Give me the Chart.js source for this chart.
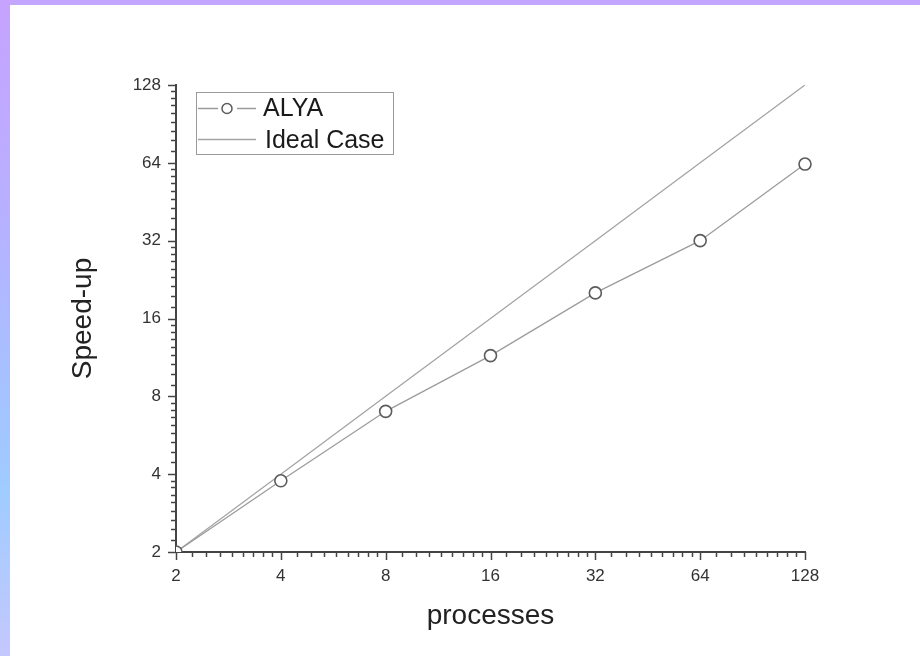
<!DOCTYPE html>
<html>
<head>
<meta charset="utf-8">
<script src="https://cdn.jsdelivr.net/npm/chart.js@4.4.1/dist/chart.umd.min.js"></script>
<style>
  html, body { margin: 0; padding: 0; background: #fff; }
  #frame { position: relative; width: 920px; height: 656px; overflow: hidden; background: #fff; }
  #frame .top { position: absolute; left: 0; top: 0; width: 920px; height: 5px; background: #c5a6fe; }
  #frame .side { position: absolute; left: 0; top: 0; width: 10px; height: 656px;
    background: linear-gradient(to bottom, #c6a3fe 0%, #b9afff 30%, #a4c4ff 62%, #a0ccff 75%, #c4c8ff 100%); }
  #c { position: absolute; left: 0; top: 0; }
</style>
</head>
<body>
<div id="frame">
  <div class="top"></div>
  <div class="side"></div>
  <canvas id="c" width="920" height="656"></canvas>
</div>
<script>
// Number of processes (x) and measured speed-up (y)
const processes     = [2, 4, 8, 16, 32, 64, 128];
const alyaSpeedup   = [2, 3.77, 7.0, 11.5, 20.1, 32.0, 63.3];
const idealSpeedup  = [2, 4, 8, 16, 32, 64, 128];
// Labelled (major) tick values shared by both log2 axes
const majorTicks    = [2, 4, 8, 16, 32, 64, 128];
const minorPerOctave = 8;

const FONT = '"Liberation Sans", Arial, sans-serif';
const AXIS_COLOR = '#444';

// Major ticks plus evenly spaced minor ticks inside each octave
function axisTicks() {
  const out = [];
  majorTicks.forEach((v, i) => {
    out.push({ value: v, major: true });
    if (i < majorTicks.length - 1) {
      for (let k = 1; k <= minorPerOctave; k++) {
        out.push({ value: v + v * k / (minorPerOctave + 1), major: false });
      }
    }
  });
  return out;
}

// Outward tick marks: long for majors, short for minors
const tickMarks = {
  id: 'tickMarks',
  afterDraw(chart) {
    const ctx = chart.ctx;
    ctx.save();
    ctx.strokeStyle = AXIS_COLOR;
    ctx.lineWidth = 1.5;
    const xs = chart.scales.x, ys = chart.scales.y;
    const area = chart.chartArea;
    xs.ticks.forEach(t => {
      const p = Math.round(xs.getPixelForValue(t.value)) + 0.5;
      const len = t.major ? 8 : 5;
      ctx.beginPath();
      ctx.moveTo(p, area.bottom);
      ctx.lineTo(p, area.bottom + len);
      ctx.stroke();
    });
    ys.ticks.forEach(t => {
      const p = Math.round(ys.getPixelForValue(t.value)) + 0.5;
      const len = t.major ? 8 : 5;
      ctx.beginPath();
      ctx.moveTo(area.left, p);
      ctx.lineTo(area.left - len, p);
      ctx.stroke();
    });
    ctx.restore();
  }
};

// Boxed legend with line-and-marker samples
const boxLegend = {
  id: 'boxLegend',
  afterDraw(chart) {
    const ctx = chart.ctx;
    const ds = chart.data.datasets;
    const bx = 196, by = 92, bw = 197, bh = 62;
    ctx.save();
    ctx.fillStyle = '#fff';
    ctx.fillRect(bx, by, bw, bh);
    ctx.strokeStyle = '#9a9a9a';
    ctx.lineWidth = 1;
    ctx.strokeRect(bx + 0.5, by + 0.5, bw, bh);

    // ALYA sample
    let y = 108.5;
    ctx.strokeStyle = ds[0].borderColor;
    ctx.lineWidth = 1.3;
    ctx.beginPath();
    ctx.moveTo(198, y); ctx.lineTo(218, y);
    ctx.moveTo(237, y); ctx.lineTo(256, y);
    ctx.stroke();
    ctx.beginPath();
    ctx.arc(227, y, 5, 0, Math.PI * 2);
    ctx.fillStyle = '#fff';
    ctx.fill();
    ctx.strokeStyle = ds[0].pointBorderColor;
    ctx.lineWidth = 1.5;
    ctx.stroke();

    // Ideal Case sample
    y = 139.5;
    ctx.strokeStyle = ds[1].borderColor;
    ctx.lineWidth = 1.3;
    ctx.beginPath();
    ctx.moveTo(198, y); ctx.lineTo(256, y);
    ctx.stroke();

    ctx.fillStyle = '#1a1a1a';
    ctx.font = '25px ' + FONT;
    ctx.textBaseline = 'alphabetic';
    ctx.textAlign = 'left';
    ctx.fillText(ds[0].label, 263, 116);
    ctx.fillText(ds[1].label, 265, 148);
    ctx.restore();
  }
};

const tickFont = { family: FONT, size: 17 };
const titleFont = { family: FONT, size: 28 };

new Chart(document.getElementById('c'), {
  type: 'line',
  data: {
    datasets: [
      {
        label: 'ALYA',
        data: processes.map((p, i) => ({ x: p, y: alyaSpeedup[i] })),
        borderColor: '#9c9c9c',
        borderWidth: 1.3,
        pointRadius: 6,
        pointHoverRadius: 6,
        pointBorderColor: '#5c5c5c',
        pointBorderWidth: 1.6,
        pointBackgroundColor: '#fff',
        tension: 0,
        clip: { left: 0, bottom: 0, top: false, right: false }
      },
      {
        label: 'Ideal Case',
        data: processes.map((p, i) => ({ x: p, y: idealSpeedup[i] })),
        borderColor: '#a4a4a4',
        borderWidth: 1.3,
        pointRadius: 0,
        tension: 0
      }
    ]
  },
  options: {
    responsive: false,
    animation: false,
    events: [],
    layout: { padding: { left: 10, right: 115, top: 85, bottom: 0 } },
    plugins: { legend: { display: false }, tooltip: { enabled: false } },
    scales: {
      x: {
        type: 'logarithmic',
        min: 2, max: 128,
        afterBuildTicks: s => { s.ticks = axisTicks(); },
        afterFit: s => { s.height = 104; },
        grid: { display: false, drawTicks: false },
        border: { display: true, color: AXIS_COLOR, width: 2 },
        ticks: {
          autoSkip: false, maxRotation: 0, padding: 14,
          color: '#333', font: tickFont,
          callback: (v, i, ticks) => ticks[i].major ? String(v) : ''
        },
        title: { display: true, text: 'processes', color: '#222', font: titleFont,
                 padding: { top: 0, bottom: 23 } }
      },
      y: {
        type: 'logarithmic',
        min: 2, max: 128,
        afterBuildTicks: s => { s.ticks = axisTicks(); },
        afterFit: s => { s.width = 166; },
        grid: { display: false, drawTicks: false },
        border: { display: true, color: AXIS_COLOR, width: 2 },
        ticks: {
          autoSkip: false, padding: 15,
          color: '#333', font: tickFont,
          callback: (v, i, ticks) => ticks[i].major ? String(v) : ''
        },
        title: { display: true, text: 'Speed-up', color: '#222', font: titleFont,
                 padding: { top: 56, bottom: 0 } }
      }
    }
  },
  plugins: [tickMarks, boxLegend]
});
</script>
</body>
</html>
